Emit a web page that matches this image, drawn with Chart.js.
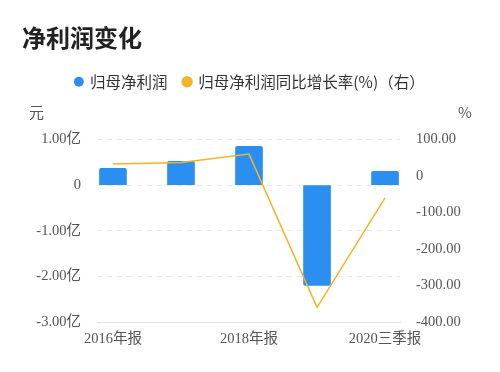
<!DOCTYPE html>
<html>
<head>
<meta charset="utf-8">
<script src="https://cdn.jsdelivr.net/npm/chart.js@4/dist/chart.umd.min.js"></script>
<style>
  body { margin: 0; background: #fff; }
  #wrap { position: relative; width: 500px; height: 372px; }
  #title { position: absolute; left: 22px; top: 21px; font: bold 24px "Noto Sans CJK SC", sans-serif; color: #222; line-height: 32px; }
  .unit { position: absolute; top: 102px; font: 15px "Noto Sans CJK SC", sans-serif; color: #555; line-height: 20px; }
</style>
</head>
<body>
<div id="wrap">
  <canvas id="profitChart" width="500" height="372"></canvas>
  <div id="title">净利润变化</div>
  <div class="unit" style="left:29px">元</div>
  <div class="unit" style="left:458px">%</div>
</div>
<script>
// datos
const categories = ['2016年报', '2017年报', '2018年报', '2019年报', '2020三季报'];
const netProfit = [0.37, 0.52, 0.85, -2.2, 0.3];     // 亿元
const growthRate = [33, 37, 60, -360, -60];           // %
const leftTicks = [-3, -2, -1, 0, 1];
const rightTicks = [-400, -300, -200, -100, 0, 100];
const xLabelIdx = [0, 2, 4];

const tickFont = { family: '"Liberation Serif", "Noto Sans CJK SC", serif', size: 14.5 };

// espacio extra debajo de la leyenda
const legendGap = {
    id: 'legendGap',
    beforeInit(chart) {
        const fit = chart.legend.fit;
        chart.legend.fit = function () {
            fit.bind(chart.legend)();
            this.height += 40;
        };
    }
};

new Chart(document.getElementById('profitChart'), {
    data: {
        datasets: [{
            type: 'bar',
            label: '归母净利润',
            data: categories.map((c, i) => ({ x: i, y: netProfit[i] })),
            backgroundColor: '#2a8ff0',
            barThickness: 27,
            borderRadius: 2,
            yAxisID: 'y',
            order: 1
        }, {
            type: 'line',
            label: '归母净利润同比增长率(%)（右）',
            data: categories.map((c, i) => ({ x: i, y: growthRate[i] })),
            borderColor: '#f1b526',
            backgroundColor: '#f1b526',
            borderWidth: 1.5,
            pointRadius: 0,
            tension: 0,
            yAxisID: 'y1',
            order: 0
        }]
    },
    options: {
        responsive: false,
        animation: false,
        layout: { padding: { top: 58, left: 0, right: 0, bottom: 0 } },
        plugins: {
            tooltip: { enabled: false },
            legend: {
                position: 'top',
                labels: {
                    sort: (a, b) => a.datasetIndex - b.datasetIndex,
                    usePointStyle: true,
                    pointStyle: 'circle',
                    boxWidth: 7,
                    boxHeight: 7,
                    padding: 16,
                    color: '#333',
                    font: { family: '"Noto Sans CJK SC", sans-serif', size: 15.5 }
                }
            }
        },
        scales: {
            x: {
                type: 'linear',
                offset: false,
                min: -0.235,
                max: 4.22,
                afterBuildTicks: s => { s.ticks = xLabelIdx.map(v => ({ value: v })); },
                afterFit: s => { s.height = 50; },
                grid: { display: false, drawTicks: false },
                border: { display: true, color: '#e2e2e2' },
                ticks: {
                    autoSkip: false,
                    maxRotation: 0,
                    padding: 8,
                    color: '#555',
                    font: tickFont,
                    callback: v => categories[v]
                }
            },
            y: {
                position: 'left',
                min: -3,
                max: 1,
                afterBuildTicks: s => { s.ticks = leftTicks.map(v => ({ value: v })); },
                afterFit: s => { s.width = 97; },
                grid: {
                    color: ctx => ctx.tick && ctx.tick.value === -3 ? 'rgba(0,0,0,0)' : '#e8e8e8',
                    drawTicks: false
                },
                border: { display: false, dash: [5, 5] },
                ticks: {
                    padding: 16,
                    color: '#555',
                    font: tickFont,
                    callback: v => v === 0 ? '0' : v.toFixed(2) + '亿'
                }
            },
            y1: {
                position: 'right',
                min: -400,
                max: 100,
                afterBuildTicks: s => { s.ticks = rightTicks.map(v => ({ value: v })); },
                afterFit: s => { s.width = 100; },
                grid: { display: false, drawTicks: false },
                border: { display: false },
                ticks: {
                    padding: 16,
                    color: '#555',
                    font: tickFont,
                    callback: v => v === 0 ? '0' : v.toFixed(2)
                }
            }
        }
    },
    plugins: [legendGap]
});
</script>
</body>
</html>
